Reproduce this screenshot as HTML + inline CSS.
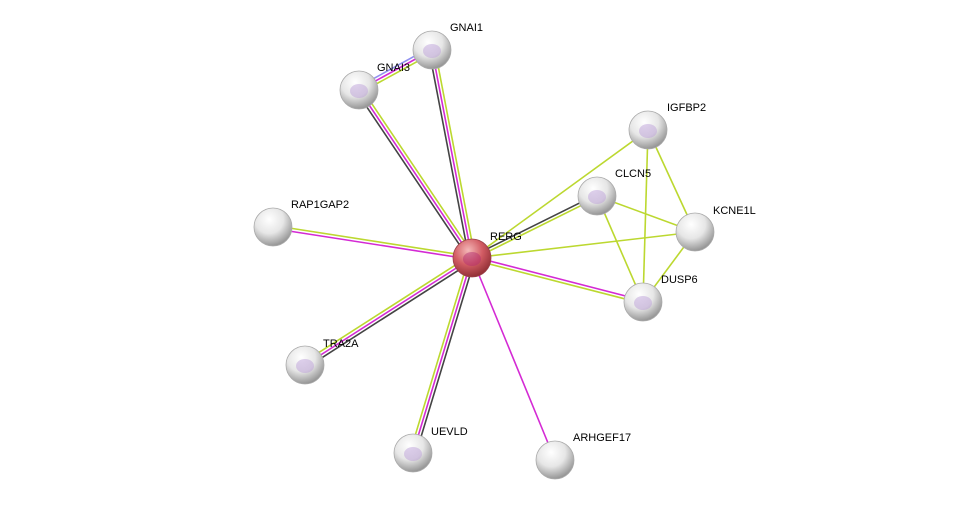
<!DOCTYPE html>
<html><head><meta charset="utf-8"><style>
html,body{margin:0;padding:0;background:#fff;}
svg{display:block;}
text{font-family:"Liberation Sans",Arial,sans-serif;font-size:11px;fill:#000;}
</style></head><body>
<svg id="s" width="975" height="505" xmlns="http://www.w3.org/2000/svg">
<defs>
<radialGradient id="g" cx="40%" cy="30%" r="75%">
<stop offset="0" stop-color="#ffffff"/><stop offset="0.5" stop-color="#e6e6e6"/><stop offset="1" stop-color="#8a8a8a"/></radialGradient>
<radialGradient id="r" cx="40%" cy="30%" r="75%">
<stop offset="0" stop-color="#f4b8b8"/><stop offset="0.5" stop-color="#d25c64"/><stop offset="1" stop-color="#8a2a30"/></radialGradient>
</defs>
<g id="edges"></g><g id="nodes"></g>
</svg>
<script>
var N={RERG:[472,258],GNAI1:[432,50],GNAI3:[359,90],IGFBP2:[648,130],CLCN5:[597,196],KCNE1L:[695,232],DUSP6:[643,302],RAP1GAP2:[273,227],TRA2A:[305,365],UEVLD:[413,453],ARHGEF17:[555,460]};
var K='#444',M='#d42ad4',Y='#bcd830',B='#9090f0';
var E=[['RERG','GNAI1',[K,M,Y]],['RERG','GNAI3',[K,M,Y]],['RERG','RAP1GAP2',[M,Y]],['RERG','TRA2A',[K,M,Y]],['RERG','UEVLD',[K,M,Y]],['RERG','ARHGEF17',[M]],['RERG','DUSP6',[M,Y]],['RERG','CLCN5',[K,Y]],['RERG','IGFBP2',[Y]],['RERG','KCNE1L',[Y]],['IGFBP2','KCNE1L',[Y]],['IGFBP2','DUSP6',[Y]],['CLCN5','KCNE1L',[Y]],['CLCN5','DUSP6',[Y]],['KCNE1L','DUSP6',[Y]],['GNAI3','GNAI1',[B,M,Y]]];
var ns='http://www.w3.org/2000/svg',eg=document.getElementById('edges'),ng=document.getElementById('nodes');
E.forEach(function(e){var a=N[e[0]],b=N[e[1]],dx=b[0]-a[0],dy=b[1]-a[1],L=Math.hypot(dx,dy),px=-dy/L,py=dx/L,n=e[2].length;
e[2].forEach(function(c,i){var o=(i-(n-1)/2)*3;var l=document.createElementNS(ns,'line');
l.setAttribute('x1',a[0]+px*o);l.setAttribute('y1',a[1]+py*o);l.setAttribute('x2',b[0]+px*o);l.setAttribute('y2',b[1]+py*o);
l.setAttribute('stroke',c);l.setAttribute('stroke-width',1.6);eg.appendChild(l);});});
var lab={RERG:[490,240],GNAI1:[450,31],GNAI3:[377,71],IGFBP2:[667,111],CLCN5:[615,177],KCNE1L:[713,214],DUSP6:[661,283],RAP1GAP2:[291,208],TRA2A:[323,347],UEVLD:[431,435],ARHGEF17:[573,441]};
var noStruct={RAP1GAP2:1,KCNE1L:1,ARHGEF17:1};
for(var k in N){var p=N[k];var c=document.createElementNS(ns,'circle');c.setAttribute('cx',p[0]);c.setAttribute('cy',p[1]);c.setAttribute('r',19);
c.setAttribute('fill',k=='RERG'?'url(#r)':'url(#g)');c.setAttribute('stroke',k=='RERG'?'#9a4048':'#aaa');c.setAttribute('stroke-width',0.8);ng.appendChild(c);
if(!noStruct[k]){var s=document.createElementNS(ns,'ellipse');s.setAttribute('cx',p[0]);s.setAttribute('cy',p[1]+1);s.setAttribute('rx',9);s.setAttribute('ry',7);
s.setAttribute('fill',k=='RERG'?'#b02a70':'#b89ad8');s.setAttribute('opacity',0.45);ng.appendChild(s);}
var t=document.createElementNS(ns,'text');t.setAttribute('x',lab[k][0]);t.setAttribute('y',lab[k][1]);t.textContent=k;ng.appendChild(t);}
</script>
</body></html>
